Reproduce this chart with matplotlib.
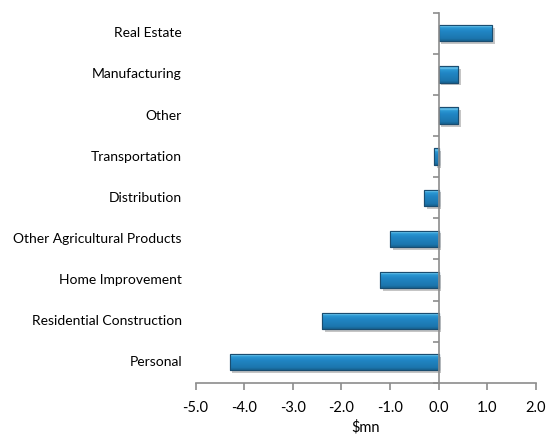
import matplotlib
matplotlib.use('Agg')
import matplotlib.pyplot as plt
import matplotlib.patheffects as pe
import matplotlib.transforms as mtransforms
import numpy as np
from matplotlib.colors import LinearSegmentedColormap

plt.rcParams['font.family'] = ['Lato', 'DejaVu Sans']

# sectors listed bottom to top
sectors = ['Personal', 'Residential Construction', 'Home Improvement',
           'Other Agricultural Products', 'Distribution', 'Transportation',
           'Other', 'Manufacturing', 'Real Estate']
change = [-4.3, -2.4, -1.2, -1.0, -0.3, -0.1, 0.4, 0.4, 1.1]
xticks = [-5.0, -4.0, -3.0, -2.0, -1.0, 0.0, 1.0, 2.0]

fig = plt.figure(figsize=(5.57, 4.38), dpi=100)
ax = fig.add_axes([0.351, 0.126, 0.611, 0.845])

ypos = np.arange(len(sectors))
bars = ax.barh(ypos, change, height=0.4, color='#2083c3', edgecolor='#1a4d70',
               linewidth=0.8, zorder=3)

# bevelled look: vertical gradient clipped to each bar
bevel = LinearSegmentedColormap.from_list(
    'bevel', [(0.0, '#17618f'), (0.15, '#1c76ae'), (0.6, '#2186c5'),
              (0.8, '#2c99d4'), (0.88, '#6cc4ec'), (1.0, '#2e92cc')])
grad = np.linspace(0, 1, 64).reshape(-1, 1)
for b in bars:
    b.set_path_effects([pe.SimplePatchShadow(offset=(2, -2), shadow_rgbFace='#808080', alpha=0.45),
                        pe.Normal()])
    x0, y0 = b.get_x(), b.get_y()
    w, h = b.get_width(), b.get_height()
    im = ax.imshow(grad, cmap=bevel, origin='lower', aspect='auto',
                   extent=(x0, x0 + w, y0, y0 + h), zorder=3.5)
    im.set_clip_path(b)
    edge = plt.Rectangle((x0, y0), w, h, fill=False, edgecolor='#1a4d70',
                         linewidth=0.8, zorder=4)
    ax.add_patch(edge)

ax.set_xlim(-5, 2)
ax.set_ylim(-0.5, len(sectors) - 0.5)

# axes: vertical line at zero, boundaries ticked
for s in ['top', 'right']:
    ax.spines[s].set_visible(False)
ax.spines['left'].set_position(('data', 0))
ax.spines['left'].set_color('#8c8c8c')
ax.spines['bottom'].set_color('#8c8c8c')
ax.spines['left'].set_linewidth(1.2)
ax.spines['bottom'].set_linewidth(1.2)
ax.spines['left'].set_zorder(5)

ax.set_yticks(np.arange(-0.5, len(sectors), 1.0))
ax.set_yticklabels([])
ax.tick_params(axis='y', direction='out', length=4, color='#8c8c8c', width=1.2)
ax.set_xticks(xticks)
ax.set_xticklabels(['{:.1f}'.format(v) for v in xticks], fontsize=10.5)
ax.tick_params(axis='x', direction='out', length=5, color='#8c8c8c', width=1.2, pad=8)
ax.set_xlabel('$mn', fontsize=10.5, labelpad=4)

trans = mtransforms.blended_transform_factory(ax.transAxes, ax.transData)
for y, name in zip(ypos, sectors):
    ax.text(-0.04, y, name, transform=trans, ha='right', va='center', fontsize=10)

fig.savefig('out.png', dpi=100)
